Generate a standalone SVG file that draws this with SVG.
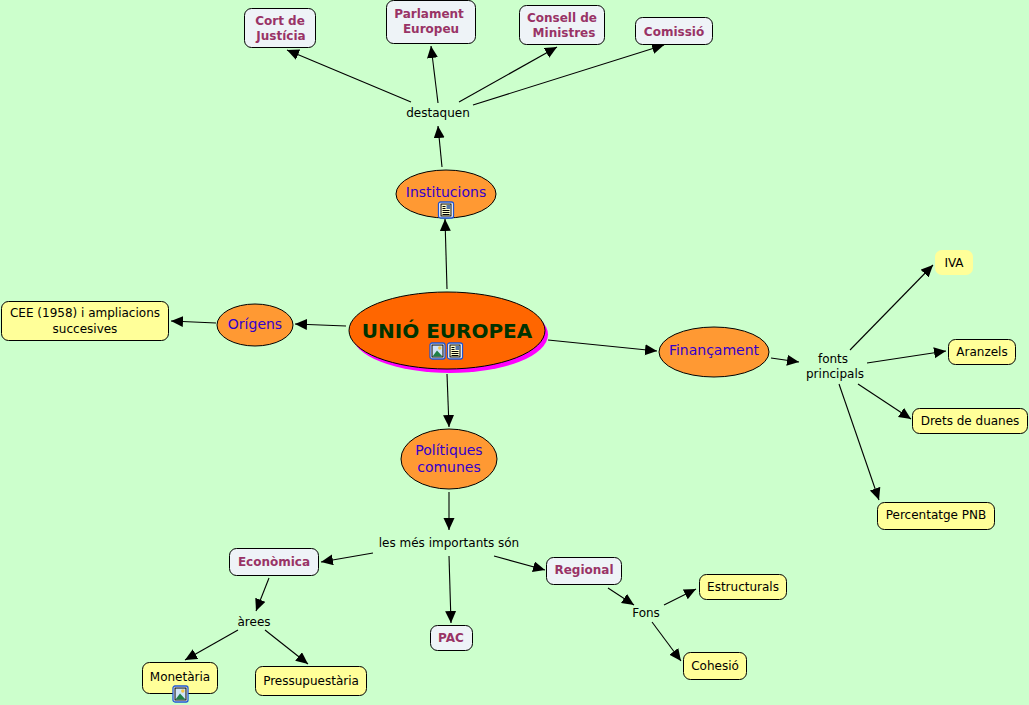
<svg xmlns="http://www.w3.org/2000/svg" width="1029" height="705" viewBox="0 0 1029 705">
<style>
text{font-family:"DejaVu Sans",Verdana,sans-serif;text-anchor:middle}
.c line{stroke:#000;stroke-width:1.1;marker-end:url(#a)}
.o{fill:#ff9933;stroke:#000;stroke-width:1}
.o2{font-size:14px;fill:#3300cc}
.y{fill:#ffff99;stroke:#000;stroke-width:1}
.w{fill:#eef3f7;stroke:#000;stroke-width:1}
.yt{font-size:12px;fill:#000}
.wt{font-size:12px;font-weight:bold;fill:#993366}
.l{font-size:12px;fill:#000}
</style>
<defs>
<marker id="a" markerUnits="userSpaceOnUse" markerWidth="14" markerHeight="12" refX="12" refY="5.500" orient="auto"><path d="M0 0L12 5.500L0 11z" fill="#000"/></marker>
<g id="img"><rect x="0" y="0" width="15" height="16" rx="2" fill="#fff" stroke="#1f55d0" stroke-width="1.300"/><rect x="2" y="2" width="11" height="12" fill="#cfe3f7" stroke="#000" stroke-width="1"/><circle cx="9.800" cy="5" r="1.700" fill="#f5c542"/><path d="M2.500 13.500L7 7.500L12.500 13.500z" fill="#1f7f45"/></g>
<g id="doc"><rect x="0" y="0" width="15" height="16" rx="2" fill="#fff" stroke="#1f55d0" stroke-width="1.300"/><rect x="2.500" y="2" width="10" height="12" fill="#ffffcc" stroke="#000" stroke-width="1"/><rect x="8" y="3" width="4" height="4" fill="#5577aa"/><path d="M4 4.500H7M4 6.500H7M4 8.500H11M4 10.500H11M4 12.500H11" stroke="#000" stroke-width="1"/></g>
</defs>
<rect width="1029" height="705" fill="#ccffcc"/>
<g id="connectors" class="c">
<line x1="447" y1="289" x2="445" y2="219"/>
<line x1="442" y1="167" x2="438" y2="126"/>
<line x1="411" y1="102" x2="287" y2="50"/>
<line x1="438" y1="103" x2="431" y2="46"/>
<line x1="459" y1="102" x2="557" y2="47"/>
<line x1="473" y1="105" x2="664" y2="45"/>
<line x1="346" y1="326" x2="295" y2="324"/>
<line x1="216" y1="323" x2="171" y2="321"/>
<line x1="548" y1="340" x2="657" y2="351"/>
<line x1="771" y1="358" x2="799" y2="362"/>
<line x1="850" y1="350" x2="933" y2="265"/>
<line x1="867" y1="363" x2="946" y2="351"/>
<line x1="858" y1="384" x2="911" y2="419"/>
<line x1="839" y1="384" x2="879" y2="500"/>
<line x1="447" y1="374" x2="449" y2="427"/>
<line x1="449" y1="492" x2="449" y2="530"/>
<line x1="373" y1="553" x2="321" y2="562"/>
<line x1="449" y1="556" x2="451" y2="623"/>
<line x1="494" y1="556" x2="545" y2="570"/>
<line x1="269" y1="578" x2="256" y2="611"/>
<line x1="238" y1="630" x2="185" y2="660"/>
<line x1="265" y1="630" x2="308" y2="664"/>
<line x1="608" y1="588" x2="634" y2="605"/>
<line x1="664" y1="605" x2="696" y2="589"/>
<line x1="652" y1="622" x2="681" y2="661"/>
</g>
<g id="uniou"><ellipse cx="450" cy="334.500" rx="98" ry="38.500" fill="#ff00ff"/><ellipse cx="447" cy="330.500" rx="98" ry="38.500" fill="#ff6600" stroke="#000"/><text x="447" y="338" font-size="20" font-weight="bold" fill="#003300">UNIÓ EUROPEA</text><use href="#img" x="430" y="343"/><use href="#doc" x="447.500" y="343"/></g>
<g id="institucions"><ellipse class="o" cx="446" cy="194" rx="50" ry="24"/><text class="o2" x="446" y="197">Institucions</text><use href="#doc" x="438.500" y="202"/></g>
<g id="origens"><ellipse class="o" cx="255" cy="325" rx="38" ry="21"/><text class="o2" x="255" y="329">Orígens</text></g>
<g id="financament"><ellipse class="o" cx="714" cy="352" rx="55" ry="25"/><text class="o2" x="714" y="355">Finançament</text></g>
<g id="politiques"><ellipse class="o" cx="449" cy="459" rx="48" ry="30"/><text class="o2" x="449" y="455">Polítiques</text><text class="o2" x="449" y="472">comunes</text></g>
<g id="cee"><rect class="y" x="1.500" y="301.500" width="167" height="39" rx="7"/><text class="yt" x="85" y="317">CEE (1958) i ampliacions</text><text class="yt" x="85" y="333">succesives</text></g>
<g id="cort"><rect class="w" x="244.500" y="8.500" width="71" height="39" rx="7"/><text class="wt" x="280" y="25">Cort de</text><text class="wt" x="281" y="40">Justícia</text></g>
<g id="parlament"><rect class="w" x="386.500" y="0.500" width="89" height="43" rx="7"/><text class="wt" x="429" y="18">Parlament</text><text class="wt" x="431" y="33">Europeu</text></g>
<g id="consell"><rect class="w" x="519.500" y="5.500" width="85" height="39" rx="7"/><text class="wt" x="562" y="22">Consell de</text><text class="wt" x="564" y="37">Ministres</text></g>
<g id="comissio"><rect class="w" x="635.500" y="17.500" width="77" height="27" rx="7"/><text class="wt" x="674" y="36">Comissió</text></g>
<g id="destaquen"><text class="l" x="438" y="117">destaquen</text></g>
<g id="fonts"><text class="l" x="833" y="363">fonts</text><text class="l" x="835" y="378">principals</text></g>
<g id="iva"><rect x="935" y="250" width="38" height="25" rx="7" fill="#ffff99"/><text class="yt" x="954" y="267">IVA</text></g>
<g id="aranzels"><rect class="y" x="948.500" y="339.500" width="67" height="25" rx="7"/><text class="yt" x="982" y="356">Aranzels</text></g>
<g id="drets"><rect class="y" x="912.500" y="408.500" width="115" height="25" rx="7"/><text class="yt" x="970" y="425">Drets de duanes</text></g>
<g id="pnb"><rect class="y" x="877.500" y="502.500" width="117" height="27" rx="7"/><text class="yt" x="936" y="519">Percentatge PNB</text></g>
<g id="mes"><text class="l" x="449" y="547">les més importants són</text></g>
<g id="economica"><rect class="w" x="229.500" y="548.500" width="89" height="27" rx="7"/><text class="wt" x="274" y="566">Econòmica</text></g>
<g id="pac"><rect class="w" x="430.500" y="625.500" width="42" height="25" rx="7"/><text class="wt" x="451" y="642">PAC</text></g>
<g id="regional"><rect class="w" x="546.500" y="557.500" width="75" height="27" rx="7"/><text class="wt" x="584" y="574">Regional</text></g>
<g id="arees"><text class="l" x="254" y="626">àrees</text></g>
<g id="fons"><text class="l" x="646" y="617">Fons</text></g>
<g id="monetaria"><rect class="y" x="142.500" y="662.500" width="75" height="31" rx="7"/><text class="yt" x="180" y="681">Monetària</text><use href="#img" x="173" y="686"/></g>
<g id="pressu"><rect class="y" x="255.500" y="666.500" width="111" height="29" rx="7"/><text class="yt" x="311" y="685">Pressupuestària</text></g>
<g id="estructurals"><rect class="y" x="699.500" y="574.500" width="87" height="25" rx="7"/><text class="yt" x="743" y="591">Estructurals</text></g>
<g id="cohesio"><rect class="y" x="683.500" y="652.500" width="63" height="27" rx="7"/><text class="yt" x="715" y="670">Cohesió</text></g>
</svg>
